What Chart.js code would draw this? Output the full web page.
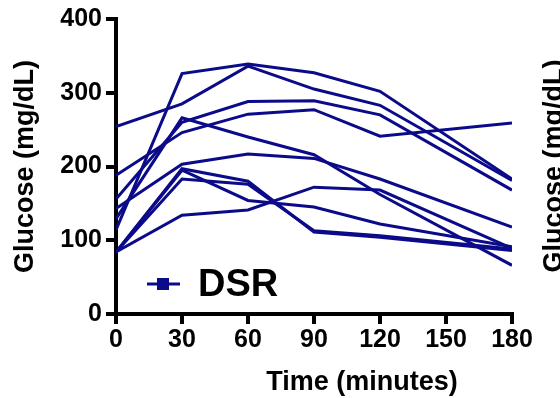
<!DOCTYPE html>
<html>
<head>
<meta charset="utf-8">
<script src="https://cdn.jsdelivr.net/npm/chart.js@4"></script>
<style>
html, body { margin: 0; padding: 0; background: #fff; }
#wrap { width: 560px; height: 398px; }
</style>
</head>
<body>
<div id="wrap"><canvas id="glucoseChart" width="560" height="398"></canvas></div>
<script>
// sampling times (minutes) and one glucose curve per subject
const times = [0, 30, 60, 90, 120, 180];
const subj1 = [114, 326, 339, 327, 302, 183];
const subj2 = [254, 285, 336, 305, 283, 181];
const subj3 = [156, 260, 288, 289, 270, 168];
const subj4 = [188, 246, 271, 277, 241, 259];
const subj5 = [129, 266, 240, 216, 162, 66];
const subj6 = [143, 203, 217, 211, 183, 118];
const subj7 = [84, 134, 141, 172, 168, 89];
const subj8 = [84, 195, 154, 145, 122, 91];
const subj9 = [84, 197, 180, 111, 104, 86];
const subj10 = [84, 183, 176, 113, 106, 88];
const subjects = [subj1, subj2, subj3, subj4, subj5, subj6, subj7, subj8, subj9, subj10];

const xTicks = [0, 30, 60, 90, 120, 150, 180];
const yTicks = [0, 100, 200, 300, 400];
const groupLabel = 'DSR';
const xTitle = 'Time (minutes)';
const yTitle = 'Glucose (mg/dL)';

const navy = '#0b0b8a';
const fam = '"Liberation Sans", Arial, sans-serif';

// x title, the clipped label of the next panel, and the legend
const extras = {
    id: 'extras',
    afterDraw(chart) {
        const ctx = chart.ctx;
        ctx.save();
        ctx.fillStyle = '#000';
        ctx.font = 'bold 27px ' + fam;
        ctx.textAlign = 'center';
        ctx.textBaseline = 'middle';
        ctx.fillText(xTitle, 362, 383);

        ctx.save();
        ctx.translate(555, 166);
        ctx.rotate(-Math.PI / 2);
        ctx.fillText(yTitle, 0, 0);
        ctx.restore();

        // legend
        ctx.strokeStyle = navy;
        ctx.lineWidth = 3;
        ctx.beginPath();
        ctx.moveTo(147, 284);
        ctx.lineTo(180, 284);
        ctx.stroke();
        ctx.fillStyle = navy;
        ctx.fillRect(157, 278, 12, 12);
        ctx.fillStyle = '#000';
        ctx.font = 'bold 38px ' + fam;
        ctx.textAlign = 'left';
        ctx.fillText(groupLabel, 198, 286);
        ctx.restore();
    }
};

new Chart(document.getElementById('glucoseChart').getContext('2d'), {
    type: 'line',
    data: {
        datasets: subjects.map((vals, i) => ({
            label: groupLabel + ' ' + (i + 1),
            data: vals.map((v, j) => ({ x: times[j], y: v })),
            borderColor: navy,
            borderWidth: 3,
            pointRadius: 0,
            fill: false,
            tension: 0
        }))
    },
    options: {
        responsive: false,
        animation: false,
        layout: { padding: { top: 19, right: 48, left: 0, bottom: 0 } },
        plugins: { legend: { display: false }, tooltip: { enabled: false } },
        scales: {
            x: {
                type: 'linear',
                min: 0,
                max: 180,
                afterBuildTicks: s => { s.ticks = xTicks.map(v => ({ value: v })); },
                afterFit: s => { s.height = 84; },
                ticks: { color: '#000', font: { family: fam, size: 25, weight: 'bold' }, padding: 1, maxRotation: 0 },
                grid: { drawOnChartArea: false, drawTicks: true, tickLength: 10, lineWidth: 4, color: '#000' },
                border: { display: true, width: 4, color: '#000' }
            },
            y: {
                min: 0,
                max: 400,
                afterBuildTicks: s => { s.ticks = yTicks.map(v => ({ value: v })); },
                afterFit: s => { s.width = 116; },
                ticks: { color: '#000', font: { family: fam, size: 25, weight: 'bold' }, padding: 4 },
                grid: { drawOnChartArea: false, drawTicks: true, tickLength: 10, lineWidth: 4, color: '#000' },
                border: { display: true, width: 4, color: '#000' },
                title: {
                    display: true,
                    text: yTitle,
                    color: '#000',
                    font: { family: fam, size: 27, weight: 'bold' },
                    padding: { top: 9, bottom: 0 }
                }
            }
        }
    },
    plugins: [extras]
});
</script>
</body>
</html>
